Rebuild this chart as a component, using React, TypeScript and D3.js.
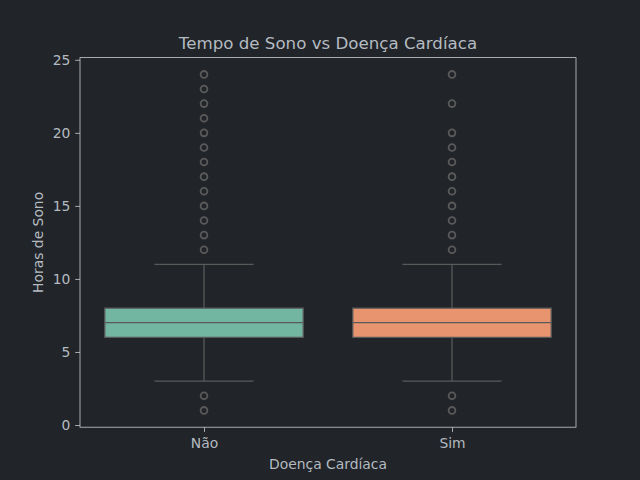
import React, { useRef, useEffect } from "react";
import * as d3 from "d3";

const categories = ["Não", "Sim"];
const boxColors = ["#72b5a0", "#e8956f"];
// quartis e bigodes (horas)
const q1 = [6, 6];
const medians = [7, 7];
const q3 = [8, 8];
const whiskLow = [3, 3];
const whiskHigh = [11, 11];
const outliersNao = [1, 2, 12, 13, 14, 15, 16, 17, 18, 19, 20, 21, 22, 23, 24];
const outliersSim = [1, 2, 12, 13, 14, 15, 16, 17, 18, 19, 20, 22, 24];
const yTicks = [0, 5, 10, 15, 20, 25];

const App: React.FC = () => {
  const svgRef = useRef<SVGSVGElement | null>(null);

  useEffect(() => {
    const svg = d3.select(svgRef.current);
    svg.selectAll("*").remove();

    const width = 640;
    const height = 480;
    const margin = { top: 57.6, right: 64, bottom: 52.8, left: 80 };
    const bg = "#212428";
    const textColor = "#b4bbc1";
    const spine = "#c8ccd0";
    const lineColor = "#5a5a5a";
    const font = "DejaVu Sans, sans-serif";
    const labelSize = 13.89;

    svg.attr("width", width).attr("height", height).style("display", "block");
    svg.append("rect").attr("width", width).attr("height", height).attr("fill", bg);

    const x = d3.scaleLinear().domain([-0.5, 1.5]).range([margin.left, width - margin.right]);
    const y = d3.scaleLinear().domain([-0.15, 25.15]).range([height - margin.bottom, margin.top]);

    const outliers = [outliersNao, outliersSim];
    const boxW = 0.8;
    const capW = 0.4;

    categories.forEach((c, i) => {
      const g = svg.append("g");
      // bigodes
      g.append("line")
        .attr("x1", x(i)).attr("x2", x(i))
        .attr("y1", y(q1[i])).attr("y2", y(whiskLow[i]))
        .attr("stroke", lineColor).attr("stroke-width", 1.25);
      g.append("line")
        .attr("x1", x(i)).attr("x2", x(i))
        .attr("y1", y(q3[i])).attr("y2", y(whiskHigh[i]))
        .attr("stroke", lineColor).attr("stroke-width", 1.25);
      [whiskLow[i], whiskHigh[i]].forEach((v) => {
        g.append("line")
          .attr("x1", x(i - capW / 2)).attr("x2", x(i + capW / 2))
          .attr("y1", y(v)).attr("y2", y(v))
          .attr("stroke", lineColor).attr("stroke-width", 1.25);
      });
      // caixa
      g.append("rect")
        .attr("x", x(i - boxW / 2))
        .attr("y", y(q3[i]))
        .attr("width", x(i + boxW / 2) - x(i - boxW / 2))
        .attr("height", y(q1[i]) - y(q3[i]))
        .attr("fill", boxColors[i])
        .attr("stroke", lineColor).attr("stroke-width", 1.25);
      g.append("line")
        .attr("x1", x(i - boxW / 2)).attr("x2", x(i + boxW / 2))
        .attr("y1", y(medians[i])).attr("y2", y(medians[i]))
        .attr("stroke", lineColor).attr("stroke-width", 1.25);
      // outliers
      g.selectAll("circle.o")
        .data(outliers[i])
        .enter()
        .append("circle")
        .attr("cx", x(i))
        .attr("cy", (d) => y(d))
        .attr("r", 3.4)
        .attr("fill", "none")
        .attr("stroke", lineColor)
        .attr("stroke-width", 1.8);
    });

    // eixos
    const axisY = svg.append("g")
      .attr("transform", `translate(${margin.left},0)`)
      .call(d3.axisLeft(y).tickValues(yTicks).tickSize(4.86).tickPadding(4.86));
    const axisX = svg.append("g")
      .attr("transform", `translate(0,${height - margin.bottom})`)
      .call(d3.axisBottom(x).tickValues([0, 1]).tickFormat((d) => categories[d as number]).tickSize(4.86).tickPadding(5.8));
    [axisX, axisY].forEach((a) => {
      a.select(".domain").remove();
      a.selectAll("line").attr("stroke", spine).attr("stroke-width", 0.8);
      a.selectAll("text").attr("fill", textColor).attr("font-size", labelSize).attr("font-family", font);
    });

    svg.append("rect")
      .attr("x", margin.left).attr("y", margin.top)
      .attr("width", width - margin.right - margin.left)
      .attr("height", height - margin.bottom - margin.top)
      .attr("fill", "none").attr("stroke", spine).attr("stroke-width", 0.8);

    svg.append("text")
      .attr("x", (margin.left + width - margin.right) / 2).attr("y", 49.3)
      .attr("text-anchor", "middle").attr("fill", textColor)
      .attr("font-size", 16.67).attr("font-family", font)
      .text("Tempo de Sono vs Doença Cardíaca");
    svg.append("text")
      .attr("x", (margin.left + width - margin.right) / 2).attr("y", 468.5)
      .attr("text-anchor", "middle").attr("fill", textColor)
      .attr("font-size", labelSize).attr("font-family", font)
      .text("Doença Cardíaca");
    svg.append("text")
      .attr("transform", `translate(43,${(margin.top + height - margin.bottom) / 2}) rotate(-90)`)
      .attr("text-anchor", "middle").attr("fill", textColor)
      .attr("font-size", labelSize).attr("font-family", font)
      .text("Horas de Sono");
  }, []);

  return (
    <div style={{ position: "fixed", left: 0, top: 0 }}>
      <svg ref={svgRef} />
    </div>
  );
};

export default App;
